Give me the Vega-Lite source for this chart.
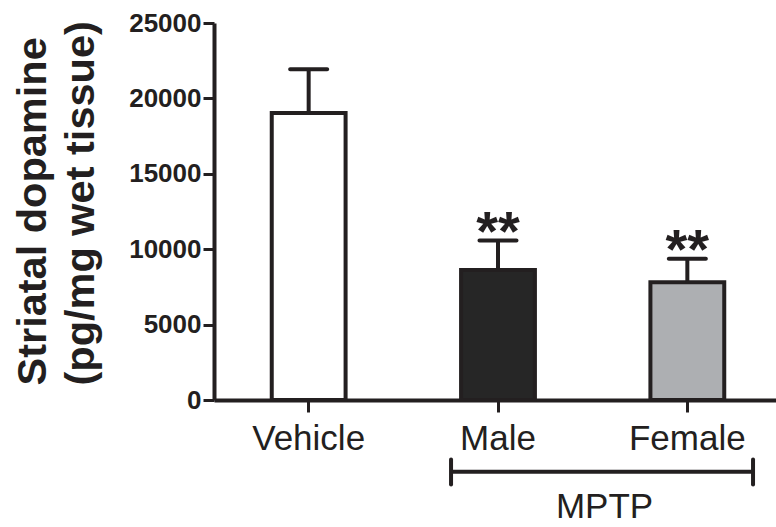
{
  "$schema": "https://vega.github.io/schema/vega-lite/v6.json",
  "width": 568,
  "height": 377,
  "autosize": "none",
  "padding": {"left": 214, "top": 23, "right": -6, "bottom": 127},
  "background": "white",
  "config": {
    "view": {"stroke": null},
    "font": "Liberation Sans",
    "axisY": {
      "grid": false,
      "domainColor": "#231f20", "domainWidth": 4, "tickColor": "#231f20",
      "tickWidth": 3, "tickSize": 11, "labelFont": "Liberation Sans",
      "labelFontWeight": "bold", "labelFontSize": 26, "labelColor": "#231f20",
      "labelPadding": 2,
      "titleFont": "Liberation Sans", "titleFontSize": 41.5, "titleFontWeight": "bold",
      "titleColor": "#231f20", "titleAngle": -90, "titleAlign": "left",
      "titleBaseline": "alphabetic", "titleX": -169, "titleY": 362, "titleLineHeight": 48
    }
  },
  "layer": [
    {
      "data": {"values": [
        {"group": "Vehicle", "mean": 19030, "upper": 21930, "sig": ""},
        {"group": "Male", "mean": 8620, "upper": 10570, "sig": "**"},
        {"group": "Female", "mean": 7810, "upper": 9370, "sig": "**"}
      ]},
      "encoding": {
        "x": {
          "field": "group", "type": "nominal", "sort": ["Vehicle", "Male", "Female"],
          "scale": {"paddingInner": 0.61, "paddingOuter": 0.305},
          "axis": {
            "title": null, "labelAngle": 0, "domainColor": "#231f20", "domainWidth": 4,
            "tickColor": "#231f20", "tickWidth": 3, "tickSize": 12,
            "labelFont": "Liberation Sans", "labelFontSize": 35, "labelColor": "#231f20",
            "labelPadding": 9
          }
        }
      },
      "layer": [
        {
          "mark": {"type": "bar", "stroke": "#231f20", "strokeWidth": 4},
          "encoding": {
            "y": {
              "field": "mean", "type": "quantitative",
              "title": ["Striatal dopamine", "(pg/mg wet tissue)"],
              "scale": {"domain": [0, 25000], "nice": false},
              "axis": {"values": [0, 5000, 10000, 15000, 20000, 25000], "format": "d"}
            },
            "fill": {
              "field": "group", "type": "nominal",
              "scale": {"domain": ["Vehicle", "Male", "Female"], "range": ["#ffffff", "#262626", "#adafb2"]},
              "legend": null
            }
          }
        },
        {
          "mark": {"type": "rule", "strokeWidth": 4, "color": "#231f20"},
          "encoding": {
            "y": {"field": "mean", "type": "quantitative", "title": ["Striatal dopamine", "(pg/mg wet tissue)"], "scale": {"domain": [0, 25000], "nice": false}, "axis": {"values": [0, 5000, 10000, 15000, 20000, 25000], "format": "d"}},
            "y2": {"field": "upper"}
          }
        },
        {
          "mark": {"type": "tick", "thickness": 4, "size": 41, "color": "#231f20", "cornerRadius": 2, "opacity": 1},
          "encoding": {
            "y": {"field": "upper", "type": "quantitative", "title": ["Striatal dopamine", "(pg/mg wet tissue)"], "scale": {"domain": [0, 25000], "nice": false}, "axis": {"values": [0, 5000, 10000, 15000, 20000, 25000], "format": "d"}}
          }
        },
        {
          "mark": {"type": "text", "fontSize": 56, "fontWeight": "bold", "baseline": "alphabetic", "dy": 9, "color": "#231f20", "font": "Liberation Sans"},
          "encoding": {
            "y": {"field": "upper", "type": "quantitative", "title": ["Striatal dopamine", "(pg/mg wet tissue)"], "scale": {"domain": [0, 25000], "nice": false}, "axis": {"values": [0, 5000, 10000, 15000, 20000, 25000], "format": "d"}},
            "text": {"field": "sig"}
          }
        }
      ]
    },
    {
      "layer": [
        {
          "data": {"values": [{"start": 1.252, "end": 2.847, "level": -4750}]},
          "mark": {"type": "rule", "strokeWidth": 4, "color": "#231f20"},
          "encoding": {
            "x": {"field": "start", "type": "quantitative", "scale": {"domain": [0, 3], "nice": false, "zero": false}, "axis": null},
            "x2": {"field": "end"},
            "y": {"field": "level", "type": "quantitative", "title": ["Striatal dopamine", "(pg/mg wet tissue)"], "scale": {"domain": [0, 25000], "nice": false}, "axis": {"values": [0, 5000, 10000, 15000, 20000, 25000], "format": "d"}}
          }
        },
        {
          "data": {"values": [{"pos": 1.252, "lo": -3950, "hi": -5600}, {"pos": 2.847, "lo": -3950, "hi": -5600}]},
          "mark": {"type": "rule", "strokeWidth": 4, "color": "#231f20", "strokeCap": "round"},
          "encoding": {
            "x": {"field": "pos", "type": "quantitative", "scale": {"domain": [0, 3], "nice": false, "zero": false}, "axis": null},
            "y": {"field": "lo", "type": "quantitative", "title": ["Striatal dopamine", "(pg/mg wet tissue)"], "scale": {"domain": [0, 25000], "nice": false}, "axis": {"values": [0, 5000, 10000, 15000, 20000, 25000], "format": "d"}},
            "y2": {"field": "hi"}
          }
        },
        {
          "data": {"values": [{"pos": 2.0625, "level": -7850, "label": "MPTP"}]},
          "mark": {"type": "text", "fontSize": 35, "baseline": "alphabetic", "align": "center", "color": "#231f20", "font": "Liberation Sans"},
          "encoding": {
            "x": {"field": "pos", "type": "quantitative", "scale": {"domain": [0, 3], "nice": false, "zero": false}, "axis": null},
            "y": {"field": "level", "type": "quantitative", "title": ["Striatal dopamine", "(pg/mg wet tissue)"], "scale": {"domain": [0, 25000], "nice": false}, "axis": {"values": [0, 5000, 10000, 15000, 20000, 25000], "format": "d"}},
            "text": {"field": "label"}
          }
        }
      ]
    }
  ],
  "resolve": {"scale": {"x": "independent"}}
}
